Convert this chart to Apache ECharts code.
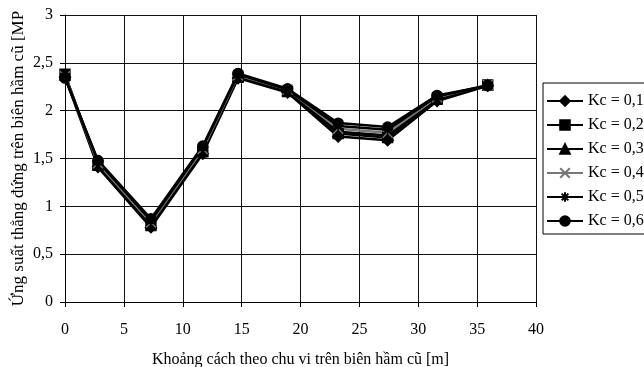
<!DOCTYPE html>
<html>
<head>
<meta charset="utf-8">
<script src="https://cdn.jsdelivr.net/npm/echarts@6/dist/echarts.min.js"></script>
<style>
  html, body { margin: 0; padding: 0; background: #fff; }
  #chart { width: 644px; height: 367px; }
</style>
</head>
<body>
<div id="chart"></div>
<script>
// khoang cach theo chu vi [m]
var distances = [0, 2.8, 7.3, 11.7, 14.7, 18.9, 23.2, 27.4, 31.6, 35.9]
var seriesNames = ['Kc = 0,1', 'Kc = 0,2', 'Kc = 0,3', 'Kc = 0,4', 'Kc = 0,5', 'Kc = 0,6']
var kc01 = [2.35, 1.41, 0.78, 1.55, 2.34, 2.19, 1.73, 1.69, 2.10, 2.26]
var kc02 = [2.38, 1.43, 0.80, 1.57, 2.35, 2.20, 1.76, 1.72, 2.12, 2.27]
var kc03 = [2.37, 1.44, 0.82, 1.58, 2.36, 2.21, 1.78, 1.74, 2.13, 2.27]
var kc04 = [2.36, 1.45, 0.83, 1.60, 2.37, 2.22, 1.81, 1.77, 2.14, 2.27]
var kc05 = [2.35, 1.47, 0.85, 1.62, 2.38, 2.22, 1.84, 1.80, 2.15, 2.26]
var kc06 = [2.34, 1.48, 0.87, 1.63, 2.39, 2.23, 1.87, 1.83, 2.16, 2.26]
var allValues = [kc01, kc02, kc03, kc04, kc05, kc06]

var font = 'Liberation Serif'
var symbols = [
  'diamond',
  'rect',
  'triangle',
  'path://M0,0 L10,10 M10,0 L0,10',
  'path://M0,5 L10,5 M5,0 L5,10 M1.5,1.5 L8.5,8.5 M8.5,1.5 L1.5,8.5',
  'circle'
]
var symbolSizes = [11, 10, 10, 10, 11, 10]
var lineColors = ['#000', '#000', '#000', '#777', '#000', '#000']

function pairs (xs, ys) {
  return xs.map(function (x, i) { return [x, ys[i]] })
}

var series = seriesNames.map(function (name, i) {
  return {
    name: name,
    type: 'line',
    data: pairs(distances, allValues[i]),
    symbol: symbols[i],
    symbolSize: symbolSizes[i],
    showAllSymbol: true,
    lineStyle: { color: lineColors[i], width: 2.5 },
    itemStyle: { color: lineColors[i], borderColor: lineColors[i], borderWidth: 1.4 },
    emphasis: { disabled: true }
  }
})

var chart = echarts.init(document.getElementById('chart'))
chart.setOption({
  animation: false,
  textStyle: { fontFamily: font },
  grid: { left: 65, right: 108, top: 15, bottom: 65, outerBoundsMode: 'none' },
  legend: {
    orient: 'vertical',
    left: 543,
    top: 83,
    itemWidth: 36,
    itemHeight: 12,
    itemGap: 8,
    padding: [10, 4, 5, 3],
    borderColor: '#000',
    borderWidth: 1,
    textStyle: { fontFamily: font, fontSize: 16, color: '#000' },
    data: seriesNames
  },
  xAxis: {
    type: 'value',
    min: 0,
    max: 40,
    interval: 5,
    name: 'Khoảng cách theo chu vi trên biên hầm cũ [m]',
    nameLocation: 'middle',
    nameGap: 50,
    nameMoveOverlap: false,
    nameTextStyle: { fontFamily: font, fontSize: 16, color: '#000' },
    axisLine: { lineStyle: { color: '#000', width: 1 } },
    axisTick: { show: true, length: 5, lineStyle: { color: '#000' } },
    axisLabel: { fontFamily: font, fontSize: 16, color: '#000', margin: 20 },
    splitLine: { show: true, lineStyle: { color: '#111', width: 1 } }
  },
  yAxis: {
    type: 'value',
    min: 0,
    max: 3,
    interval: 0.5,
    name: 'Ứng suất thẳng đứng trên biên hầm cũ [MP',
    nameLocation: 'middle',
    nameGap: 38,
    nameMoveOverlap: false,
    nameTextStyle: { fontFamily: font, fontSize: 17, color: '#000' },
    axisLine: { show: true, lineStyle: { color: '#000', width: 1 } },
    axisTick: { show: true, length: 5, lineStyle: { color: '#000' } },
    axisLabel: {
      fontFamily: font, fontSize: 16, color: '#000', margin: 12,
      formatter: function (v) { return String(v).replace('.', ',') }
    },
    splitLine: { show: true, lineStyle: { color: '#111', width: 1 } }
  },
  series: series
})
</script>
</body>
</html>
